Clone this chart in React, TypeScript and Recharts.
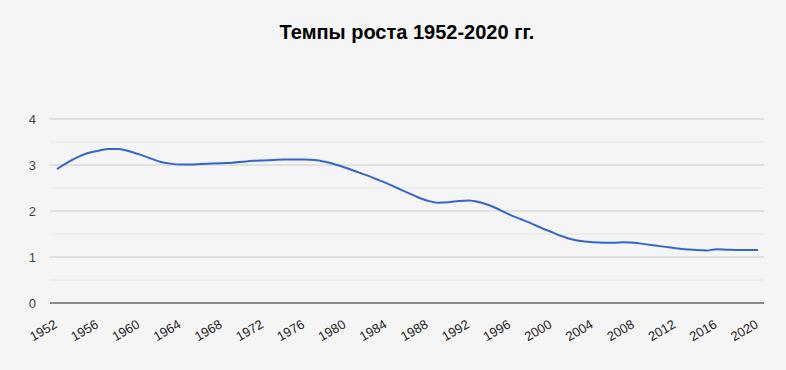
import { CartesianGrid, Line, LineChart, ReferenceLine, XAxis, YAxis } from "recharts";

const years = [
  1952, 1953, 1954, 1955, 1956, 1957, 1958, 1959, 1960, 1961, 1962, 1963, 1964, 1965, 1966, 1967, 1968,
  1969, 1970, 1971, 1972, 1973, 1974, 1975, 1976, 1977, 1978, 1979, 1980, 1981, 1982, 1983, 1984, 1985,
  1986, 1987, 1988, 1989, 1990, 1991, 1992, 1993, 1994, 1995, 1996, 1997, 1998, 1999, 2000, 2001, 2002,
  2003, 2004, 2005, 2006, 2007, 2008, 2009, 2010, 2011, 2012, 2013, 2014, 2015, 2016, 2017, 2018, 2019,
  2020,
];

const rates = [
  2.91, 3.05, 3.17, 3.26, 3.31, 3.35, 3.35, 3.3, 3.23, 3.15, 3.07, 3.03, 3.01, 3.01, 3.02, 3.03, 3.04,
  3.05, 3.07, 3.09, 3.1, 3.11, 3.12, 3.12, 3.12, 3.11, 3.07, 3.01, 2.94, 2.86, 2.78, 2.69, 2.6, 2.5,
  2.4, 2.3, 2.22, 2.18, 2.19, 2.22, 2.23, 2.19, 2.12, 2.02, 1.91, 1.82, 1.73, 1.63, 1.54, 1.45, 1.38,
  1.34, 1.32, 1.31, 1.31, 1.32, 1.31, 1.28, 1.25, 1.22, 1.19, 1.17, 1.15, 1.14, 1.17, 1.16, 1.15, 1.15,
  1.15,
];

const xTicks = [1952, 1956, 1960, 1964, 1968, 1972, 1976, 1980, 1984, 1988, 1992, 1996, 2000, 2004, 2008, 2012, 2016, 2020];
const yTicks = [0, 1, 2, 3, 4];
const minorTicks = [0.5, 1.5, 2.5, 3.5];

const title = "Темпы роста 1952-2020 гг.";

const data = years.map((year, i) => ({ year, value: rates[i] }));

const font = "Arial, 'Liberation Sans', sans-serif";

// rotated year labels, right end sits at the tick
function YearTick({ x, y, payload }: any) {
  const tx = x + 1;
  const ty = y + 22;
  return (
    <text
      x={tx}
      y={ty}
      textAnchor="end"
      fill="#222"
      fontSize={13}
      fontFamily={font}
      transform={`rotate(-30, ${tx}, ${ty})`}
    >
      {payload.value}
    </text>
  );
}

export default function App() {
  return (
    <div style={{ position: "absolute", left: 0, top: 0, width: 786, height: 370, background: "#f5f5f5" }}>
      <div
        style={{
          position: "absolute",
          left: 50,
          width: 714,
          top: 21,
          lineHeight: "23px",
          textAlign: "center",
          fontFamily: font,
          fontWeight: "bold",
          fontSize: 20,
          color: "#000",
        }}
      >
        {title}
      </div>
      <LineChart width={786} height={370} data={data} margin={{ top: 119, right: 22, bottom: 27, left: 0 }}>
        <CartesianGrid vertical={false} stroke="#cccccc" />
        {minorTicks.map((v) => (
          <ReferenceLine key={v} y={v} stroke="#e6e6e6" />
        ))}
        <XAxis
          dataKey="year"
          type="number"
          domain={[1952, 2020]}
          ticks={xTicks}
          padding={{ left: 7, right: 6 }}
          height={40}
          tickLine={false}
          tickSize={0}
          axisLine={{ stroke: "#333333" }}
          tick={<YearTick />}
          interval={0}
        />
        <YAxis
          domain={[0, 4]}
          ticks={yTicks}
          width={50}
          axisLine={false}
          tickLine={false}
          tickSize={0}
          tickMargin={14}
          tick={{ fill: "#444", fontSize: 13, fontFamily: font }}
        />
        <Line
          type="monotone"
          dataKey="value"
          stroke="#3366cc"
          strokeWidth={2}
          dot={false}
          isAnimationActive={false}
        />
      </LineChart>
    </div>
  );
}
